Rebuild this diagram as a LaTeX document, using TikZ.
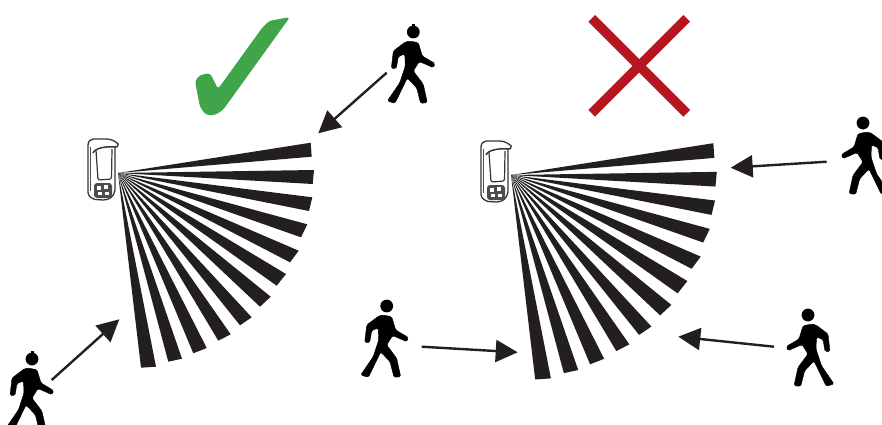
\documentclass[tikz,border=0pt]{standalone}
\usetikzlibrary{arrows.meta}
\definecolor{okgreen}{HTML}{3FA548}
\definecolor{nored}{HTML}{B5161F}
\definecolor{inkblack}{HTML}{231F20}
\tikzset{
  arr style/.style={-{Triangle[length=22pt,width=22pt]}, line width=2.4pt, draw=inkblack},
  body style/.style={fill=black, draw=black, line width=0.4pt, rounded corners=1.5pt},
  wedge style/.style={fill=inkblack},
  case style/.style={draw=inkblack!90, line width=1.3pt, fill=white, line join=round},
  mark style/.style={line width=9.5pt, draw=nored},
  pics/walker/.style={code={
    \fill (0,0) circle (6.4);
    \path[body style] (-4,9)--(5,10.7)--(9,24)--(21.7,31.5)--(20,35.7)--(6,29.5)--(2.5,35)
      --(0,39)--(10,52.3)--(14,70.7)--(7.3,71.3)--(3.3,55.7)--(-6,46)--(-18.3,71.3)
      --(-26,69)--(-13.5,50.7)--(-8,34)--(-8.5,22)--(-15,24.5)--(-17,36.5)--(-22,36.5)
      --(-20,19)--(-8,10)--cycle;
  }},
  pics/capped walker/.style={code={
    \pic {walker};
    \fill (-1.5,-8.5) rectangle (1.5,-5);
  }},
  pics/sensor/.style={code={
    \draw[case style] (-30,-28)..controls (-30,-32) and (-27,-34)..(-24.7,-34)
      --(-11.3,-34)..controls (-6,-34) and (-2,-31)..(0.3,-29)--(-0.7,-26.3)--(-3,-26)
      --(-3,17)..controls (-4,24) and (-9,27)..(-14.7,27)--(-23,26.5)
      ..controls (-27,25) and (-30,23)..(-30,19)--cycle;
    \draw[draw=inkblack!80, line width=0.7pt] (-27.5,-26)--(-27.5,18);
    \draw[draw=inkblack!90, line width=1.5pt] (-25,-20)..controls (-23,-25) and (-12,-27)..(-2,-26);
    \draw[draw=inkblack!90, line width=1.2pt, rounded corners=1.5pt] (-22,-23)--(-20,7)--(-6.5,6)--(-6,-24);
    \fill[inkblack!80, rounded corners=3pt] (-24,10) rectangle (-6,25);
    \fill[white] (-21,13) rectangle (-17.5,16.5);
    \fill[white] (-14,12) rectangle (-10,16);
    \fill[white] (-20,19) rectangle (-16.5,22);
    \fill[white] (-13,18.5) rectangle (-9,21.5);
  }},
  pics/beam fan/.style={code={
    \foreach \ax/\ay/\bx/\by in {192.7/-30.3/193.7/-16.3, 196/-3/194.7/11, 194.3/24.3/191/38,
      189.3/51.3/183/64.3, 180.7/77.7/172/89.3, 168/101/158.7/112.7, 152.7/123.7/142/133.7,
      133.7/144.3/122/152.3, 112.7/161.3/100.3/167.7, 88.7/175/75.3/180.3,
      64/185.7/50.3/188.7, 38/193.7/23/194.7}
      \fill[wedge style] (0,0)--(\ax,\ay)--(\bx,\by)--cycle;
  }}
}
\begin{document}
\begin{tikzpicture}[x=1pt,y=-1pt]
\clip (0,0) rectangle (882,424);
\fill[white] (0,0) rectangle (882,424);
\coordinate (fan1) at (118,173);
\coordinate (fan2) at (511,175);
\coordinate (w1) at (32,359);
\coordinate (w2) at (413.3,32);
\coordinate (w3) at (863,123);
\coordinate (w4) at (386.7,306);
\coordinate (w5) at (808,315);
\coordinate (a1) at (51.7,380);
\coordinate (t1) at (119.3,319.3);
\coordinate (a2) at (386.7,72.7);
\coordinate (t2) at (318.3,133.3);
\coordinate (a3) at (826.7,161.7);
\coordinate (t3) at (730.7,167.7);
\coordinate (a4) at (421.7,346.7);
\coordinate (t4) at (517.7,352.3);
\coordinate (a5) at (774,346.7);
\coordinate (t5) at (678.3,336.7);
\coordinate (c1) at (591.7,18.3);
\coordinate (c2) at (686.7,113.3);
\coordinate (c3) at (686.7,18.3);
\coordinate (c4) at (591.7,113.3);
\pic at (fan1) {beam fan};
\pic[scale=1.05] at (fan2) {beam fan};
\pic at (fan1) {sensor};
\pic at (fan2) {sensor};
\pic at (w1) {capped walker};
\pic[xscale=-0.95,yscale=0.95] at (w2) {capped walker};
\pic[xscale=-1] at (w3) {walker};
\pic at (w4) {walker};
\pic[xscale=-1] at (w5) {walker};
\draw[arr style] (a1)--(t1);
\draw[arr style] (a2)--(t2);
\draw[arr style] (a3)--(t3);
\draw[arr style] (a4)--(t4);
\draw[arr style] (a5)--(t5);
\fill[okgreen, rounded corners=3pt] (195,81)--(200,75)--(210,73)--(218,89)--(262,28)--(269,21)--(290,17)--(223,110)--(215,115)--(206,115)--(200,107)--cycle;
\draw[mark style] (c1)--(c2);
\draw[mark style] (c3)--(c4);
\end{tikzpicture}
\end{document}
